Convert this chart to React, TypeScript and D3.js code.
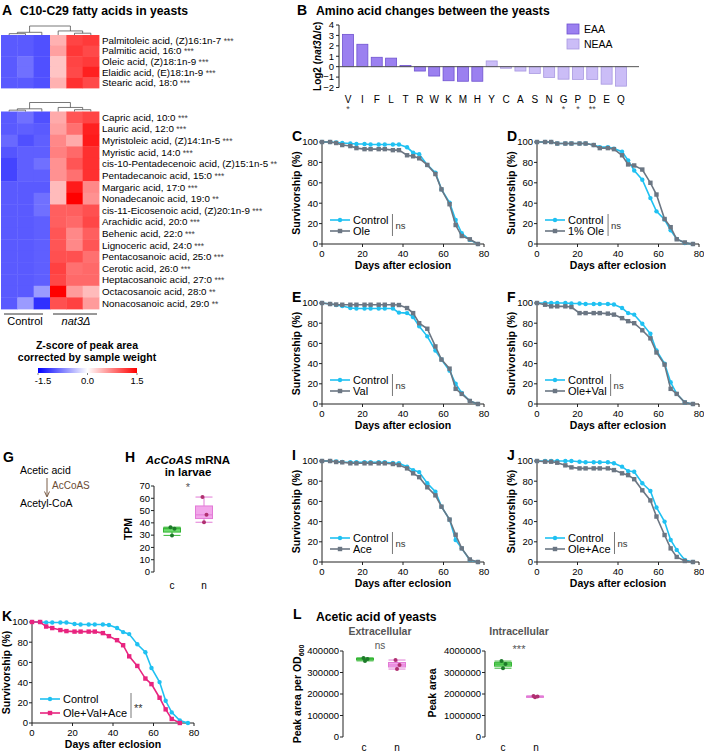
import React from "react";
import * as d3 from "d3";

const FONT = "'Liberation Sans', Arial, Helvetica, sans-serif";
const CYAN = "#1fc1f2";
const GRAY = "#6b7683";
const PINK = "#e8247f";
const AXIS = "#222";

// ---------- A: fatty acid heatmap ----------
const topAcids = [
  "Palmitoleic acid, (Z)16:1n-7",
  "Palmitic acid, 16:0",
  "Oleic acid, (Z)18:1n-9",
  "Elaidic acid, (E)18:1n-9",
  "Stearic acid, 18:0",
];
const topStars = ["***", "***", "***", "***", "***"];
// columns: control x3, nat3Δ x3
const topZ = [
  [-0.97, -0.97, -1.03, 0.46, 1.1, 1.16],
  [-0.97, -0.97, -1.03, 0.56, 1.17, 1.07],
  [-0.97, -0.84, -1.03, 0.35, 1.1, 1.16],
  [-0.97, -0.84, -1.03, 0.35, 1.07, 1.31],
  [-0.97, -0.97, -1.03, 0.46, 1.22, 1.07],
];
const bottomAcids = [
  "Capric acid, 10:0",
  "Lauric acid, 12:0",
  "Myristoleic acid, (Z)14:1n-5",
  "Myristic acid, 14:0",
  "cis-10-Pentadecenoic acid, (Z)15:1n-5",
  "Pentadecanoic acid, 15:0",
  "Margaric acid, 17:0",
  "Nonadecanoic acid, 19:0",
  "cis-11-Eicosenoic acid, (Z)20:1n-9",
  "Arachidic acid, 20:0",
  "Behenic acid, 22:0",
  "Lignoceric acid, 24:0",
  "Pentacosanoic acid, 25:0",
  "Cerotic acid, 26:0",
  "Heptacosanoic acid, 27:0",
  "Octacosanoic acid, 28:0",
  "Nonacosanoic acid, 29:0",
];
const bottomStars = ["***", "***", "***", "***", "**", "***", "***", "**", "***", "***", "***", "***", "***", "***", "***", "**", "**"];
const bottomZ = [
  [-0.97, -0.84, -1.03, 0.5, 1.0, 1.1],
  [-0.97, -0.94, -0.97, 0.56, 0.84, 1.31],
  [-0.88, -1.03, -0.94, 0.7, 0.5, 1.35],
  [-1.0, -0.94, -0.94, 0.75, 0.88, 1.22],
  [-1.1, -0.94, -0.84, 0.65, 1.0, 1.22],
  [-1.1, -0.94, -0.94, 0.65, 0.84, 1.22],
  [-0.97, -0.97, -0.97, 0.4, 1.35, 0.7],
  [-0.97, -0.97, -0.84, 0.4, 1.5, 0.65],
  [-0.97, -0.97, -0.84, 0.94, 0.94, 1.03],
  [-0.97, -0.97, -0.94, 0.94, 0.88, 1.08],
  [-0.97, -0.97, -0.94, 1.0, 0.7, 0.94],
  [-0.97, -0.97, -0.94, 1.0, 0.7, 1.0],
  [-0.97, -0.97, -0.94, 1.03, 1.03, 0.84],
  [-0.97, -0.97, -0.94, 1.12, 0.84, 0.88],
  [-0.97, -0.97, -0.94, 1.08, 0.88, 0.88],
  [-0.97, -0.97, -0.59, 1.5, 0.59, 0.4],
  [-0.97, -0.59, -1.22, 1.03, 1.12, 0.59],
];
const legendTicks = [-1.5, 0, 1.5];

// ---------- B: amino acids ----------
const aminoAcids = ["V", "I", "F", "L", "T", "R", "W", "K", "M", "H", "Y", "C", "A", "S", "N", "G", "P", "D", "E", "Q"];
const log2Change = [3.1, 2.15, 0.9, 0.82, 0.12, -0.42, -0.9, -1.35, -1.4, -1.4, 0.55, -0.15, -0.42, -0.65, -1.03, -1.2, -1.22, -1.22, -1.68, -1.87];
const aaGroup = ["EAA", "EAA", "EAA", "EAA", "EAA", "EAA", "EAA", "EAA", "EAA", "EAA",
  "NEAA", "NEAA", "NEAA", "NEAA", "NEAA", "NEAA", "NEAA", "NEAA", "NEAA", "NEAA"];
const aaStars = ["*", "", "", "", "", "", "", "", "", "", "", "", "", "", "", "*", "*", "**", "", ""];
const log2Ticks = [-2, -1, 0, 1, 2, 3, 4];

// ---------- survival curves ----------
const days = [0, 4, 7, 10, 14, 17, 21, 24, 28, 31, 35, 38, 42, 45, 48, 52, 56, 59, 63, 66, 69, 73, 77];
const ctrlC = [100, 100, 99.5, 99, 98.5, 98, 98, 97.5, 97.5, 97.5, 97.5, 97.5, 94.8, 89.5, 88, 77.5, 70, 53.6, 40.5, 23.5, 10.5, 4, 0];
const oleC = [100, 100, 99, 97, 96, 94, 93, 93, 93, 93, 92, 92, 87, 86, 84, 77.5, 68.6, 53.6, 39, 18.6, 7.8, 4.6, 0];
const ctrlD = [100, 100, 100, 98.5, 98.5, 98.5, 98.5, 98.5, 97, 95, 95, 93.5, 90.5, 82, 72, 63, 45, 32, 24, 13.5, 5, 1, 0];
const ole1D = [100, 100, 100, 98.5, 98.5, 98.5, 98.5, 98.5, 97, 94, 94, 93, 87, 78, 77, 73, 60, 48.5, 24.5, 16.5, 4.6, 1.5, 0];
const ctrlE = [100, 99, 98, 97, 95, 94.5, 94.5, 94.5, 94.5, 94.5, 94.5, 90.5, 90, 86, 77, 67, 53, 44, 33, 20, 11, 3, 0];
const valE = [100, 99, 98.5, 98.3, 98.3, 98.3, 98.3, 98.3, 98.3, 98.3, 98.3, 98, 95, 90, 80, 74.5, 57, 44, 35, 15, 10, 3, 0];
const ctrlF = [100, 100, 100, 100, 100, 99.5, 99.5, 99, 99, 99, 99, 98.5, 95, 90, 88.5, 79.5, 69.5, 53, 40, 21.5, 10, 1.5, 0];
const oleValF = [100, 98.3, 96.7, 96.7, 96.7, 96, 90, 90, 90, 90, 89.5, 88.5, 85, 82, 80, 73, 65, 51, 39, 15, 10, 1.5, 0];
const ctrlI = [100, 100, 99.5, 99, 98.7, 98.7, 98.7, 98.7, 98.7, 98.7, 98, 97.7, 94.4, 91, 89, 78, 69.6, 54.8, 42, 21.8, 13.5, 2, 0];
const aceI = [100, 100, 99, 98.7, 97.7, 97.7, 97.7, 97.7, 97.7, 97.7, 97, 96, 92.7, 87.8, 84, 74, 66, 54.8, 42, 27, 13.5, 2.5, 0];
const ctrlJ = [100, 100, 100, 100, 100, 100, 99.3, 98.7, 98.7, 98.7, 98.7, 97.7, 94.4, 90, 89.4, 78, 70.3, 54, 40, 21.8, 12, 2, 0];
const oleAceJ = [100, 99.3, 99.3, 98.3, 95.7, 93.7, 92.7, 92.7, 92.7, 92.7, 92.7, 91, 87.8, 86, 82, 71, 61, 45, 26.7, 13.5, 5, 1, 0];
const ctrlK = [100, 100, 99.5, 99.5, 99.5, 99.5, 98, 97.5, 97.5, 97.5, 97.5, 97, 94, 90, 88, 78, 70, 54.5, 40.5, 22, 10.5, 2.5, 0];
const oleValAceK = [100, 100, 95.5, 94, 92, 91, 90.5, 90.5, 90.5, 90.5, 89, 86, 82, 77, 66, 56.5, 44, 38.5, 25, 13.5, 4, 0, null];
const survTicks = [0, 20, 40, 60, 80];
const pctTicks = [0, 20, 40, 60, 80, 100];

// ---------- H: AcCoAS TPM ----------
const tpmControl = [29.8, 35.2, 36.5];
const tpmNat3 = [40.5, 46.5, 61];
const tpmTicks = [0, 10, 20, 30, 40, 50, 60, 70];

// ---------- L: acetic acid ----------
const extraControl = [354000, 363000, 368000];
const extraNat3 = [316000, 335000, 358000];
const intraControl = [3200000, 3390000, 3530000];
const intraNat3 = [1850000, 1880000, 1910000];
const extraTicks = [0, 100000, 200000, 300000, 400000];
const intraTicks = [0, 1000000, 2000000, 3000000, 4000000];

const zColor = d3.scaleLinear<string>().domain([-1.5, 0, 1.5]).range(["#0000ff", "#ffffff", "#ff0000"]).clamp(true);

const ctx = typeof document !== "undefined" ? document.createElement("canvas").getContext("2d") : null;
function textW(s: string, size: number, weight = "normal") {
  if (!ctx) return s.length * size * 0.55;
  ctx.font = `${weight} ${size}px ${FONT}`;
  return ctx.measureText(s).width;
}

// dendrogram: leaves 0-5, merges create ids 6..10
const merges: [number, number, number][] = [[0, 1, 0.15], [4, 5, 0.2], [6, 2, 0.3], [7, 3, 0.45], [8, 9, 1]];

function Dendro({ cx, yTop, yBot }: { cx: number[]; yTop: number; yBot: number }) {
  const h = d3.scaleLinear().domain([0, 1]).range([yBot, yTop]);
  const xs = [...cx];
  const hs = cx.map(() => 0);
  const paths: string[] = [];
  merges.forEach(([a, b, ht]) => {
    paths.push(`M${xs[a]},${h(hs[a])}V${h(ht)}H${xs[b]}V${h(hs[b])}`);
    xs.push((xs[a] + xs[b]) / 2);
    hs.push(ht);
  });
  return <path d={paths.join("")} fill="none" stroke="#555" strokeWidth={0.8} />;
}

function HeatBlock({ names, stars, z, y0, y1 }: { names: string[]; stars: string[]; z: number[][]; y0: number; y1: number }) {
  const x = d3.scaleBand<number>().domain(d3.range(6)).range([1, 99]);
  const y = d3.scaleBand<number>().domain(d3.range(names.length)).range([y0, y1]);
  const cx = d3.range(6).map((j) => x(j)! + x.bandwidth() / 2);
  return (
    <g>
      {z.map((row, i) =>
        row.map((v, j) => (
          <rect key={`${i}-${j}`} x={x(j)} y={y(i)} width={x.bandwidth() + 0.4} height={y.bandwidth() + 0.4} fill={zColor(v)} />
        ))
      )}
      {names.map((n, i) => (
        <text key={n} x={102} y={y(i)! + y.bandwidth() / 2 + 3.5} fontSize={9.8}>
          {n}
          <tspan fill="#444" fontSize={8.5}> {stars[i]}</tspan>
        </text>
      ))}
      <Dendro cx={cx} yTop={y0 - 9} yBot={y0} />
    </g>
  );
}

function PanelA() {
  const lx = d3.scaleLinear().domain([-1.5, 1.5]).range([38, 137]);
  return (
    <g>
      <text x={2} y={15} fontSize={14} fontWeight="bold">A</text>
      <text x={20} y={15} fontSize={12.2} fontWeight="bold">C10-C29 fatty acids in yeasts</text>
      <HeatBlock names={topAcids} stars={topStars} z={topZ} y0={35} y1={88} />
      <HeatBlock names={bottomAcids} stars={bottomStars} z={bottomZ} y0={111.5} y1={309} />
      <line x1={4} x2={43} y1={314} y2={314} stroke="#333" />
      <line x1={53} x2={97} y1={314} y2={314} stroke="#333" />
      <text x={25} y={325} fontSize={11} textAnchor="middle">Control</text>
      <text x={76} y={325} fontSize={11} textAnchor="middle" fontStyle="italic">nat3Δ</text>
      <text x={87} y={349} fontSize={10.5} fontWeight="bold" textAnchor="middle">Z-score of peak area</text>
      <text x={87} y={361} fontSize={10.5} fontWeight="bold" textAnchor="middle">corrected by sample weight</text>
      <defs>
        <linearGradient id="zgrad" x1="0" x2="1" y1="0" y2="0">
          {[-1.5, -0.75, 0, 0.75, 1.5].map((v) => (
            <stop key={v} offset={(v + 1.5) / 3} stopColor={zColor(v)} />
          ))}
        </linearGradient>
      </defs>
      <rect x={38} y={368} width={99} height={5} fill="url(#zgrad)" />
      {legendTicks.map((v) => (
        <g key={v}>
          <line x1={lx(v)} x2={lx(v)} y1={373} y2={375} stroke="#333" strokeWidth={0.6} />
          <text x={lx(v) + (v < 0 ? 5 : 0)} y={384} fontSize={9.5} textAnchor="middle">{d3.format(".1f")(v).replace("−", "-")}</text>
        </g>
      ))}
    </g>
  );
}

function PanelB() {
  const x = d3.scalePoint<string>().domain(aminoAcids).range([348, 621]);
  const y = d3.scaleLinear().domain([-2, 4]).range([87.5, 25]);
  const bw = 11;
  const fills: Record<string, string> = { EAA: "#9b80f0", NEAA: "#cbbdf7" };
  const strokes: Record<string, string> = { EAA: "#6f52d0", NEAA: "#a898e0" };
  return (
    <g>
      <text x={297} y={15} fontSize={14} fontWeight="bold">B</text>
      <text x={316} y={15} fontSize={12.2} fontWeight="bold">Amino acid changes between the yeasts</text>
      <line x1={339} x2={339} y1={y(4)} y2={y(-2)} stroke={AXIS} />
      {log2Ticks.map((t) => (
        <g key={t}>
          <line x1={336} x2={339} y1={y(t)} y2={y(t)} stroke={AXIS} />
          <text x={334} y={y(t) + 3.3} fontSize={9.5} textAnchor="end">{d3.format("d")(t)}</text>
        </g>
      ))}
      <text transform={`translate(321,${y(1)}) rotate(-90)`} fontSize={10} fontWeight="bold" textAnchor="middle">
        Log2 (<tspan fontStyle="italic">nat3</tspan>Δ/c)
      </text>
      {aminoAcids.map((a, i) => {
        const v = log2Change[i];
        return (
          <g key={a}>
            <rect x={x(a)! - bw / 2} y={Math.min(y(v), y(0))} width={bw} height={Math.abs(y(v) - y(0))}
              fill={fills[aaGroup[i]]} stroke={strokes[aaGroup[i]]} strokeWidth={0.8} />
            <text x={x(a)} y={103} fontSize={10} textAnchor="middle">{a}</text>
            {aaStars[i] && <text x={x(a)} y={112} fontSize={9} textAnchor="middle" fill="#444">{aaStars[i]}</text>}
          </g>
        );
      })}
      <line x1={339} x2={639} y1={y(0)} y2={y(0)} stroke="#555" />
      {["EAA", "NEAA"].map((g, i) => (
        <g key={g}>
          <rect x={567} y={24 + i * 15} width={12} height={10} fill={fills[g]} stroke={strokes[g]} strokeWidth={0.8} />
          <text x={584} y={33 + i * 15} fontSize={10.5}>{g}</text>
        </g>
      ))}
    </g>
  );
}

type SurvProps = {
  letter: string; x0: number; yTop: number; yBot: number;
  ctrl: (number | null)[]; treat: (number | null)[]; label: string;
  color?: string; stat?: string; rowGap?: number;
};

function Survival({ letter, x0, yTop, yBot, ctrl, treat, label, color = GRAY, stat = "ns", rowGap = 11 }: SurvProps) {
  const w = 162;
  const x = d3.scaleLinear().domain([0, 80]).range([x0, x0 + w]);
  const y = d3.scaleLinear().domain([0, 100]).range([yBot, yTop]);
  const pts = (vals: (number | null)[]) =>
    days.map((d, i) => [d, vals[i]] as [number, number | null]).filter((p) => p[1] != null) as [number, number][];
  const line = d3.line<[number, number]>().x((d) => x(d[0])).y((d) => y(d[1]));
  const c = pts(ctrl);
  const t = pts(treat);
  const lx = x0 + 8;
  const ly1 = yBot - 24;
  const ly2 = ly1 + rowGap;
  const bx = lx + 23 + Math.max(textW("Control", 11), textW(label, 11)) + 4;
  const sq = 4.4;
  return (
    <g>
      <text x={x0 - 30} y={yTop - 1} fontSize={14} fontWeight="bold">{letter}</text>
      <line x1={x0} x2={x0} y1={yTop - 1} y2={yBot} stroke={AXIS} />
      <line x1={x0} x2={x0 + w} y1={yBot} y2={yBot} stroke={AXIS} />
      {pctTicks.map((p) => (
        <g key={p}>
          <line x1={x0 - 3} x2={x0} y1={y(p)} y2={y(p)} stroke={AXIS} />
          <text x={x0 - 4} y={y(p) + 3.3} fontSize={9.5} textAnchor="end">{p}</text>
        </g>
      ))}
      {survTicks.map((d) => (
        <g key={d}>
          <line x1={x(d)} x2={x(d)} y1={yBot} y2={yBot + 3} stroke={AXIS} />
          <text x={x(d)} y={yBot + 13} fontSize={9.5} textAnchor="middle">{d}</text>
        </g>
      ))}
      <text x={x0 + w / 2} y={yBot + 24.5} fontSize={10.5} fontWeight="bold" textAnchor="middle">Days after eclosion</text>
      <text transform={`translate(${x0 - 22},${(yTop + yBot) / 2}) rotate(-90)`} fontSize={10.5} fontWeight="bold" textAnchor="middle">
        Survivorship (%)
      </text>
      <path d={line(c) || ""} fill="none" stroke={CYAN} strokeWidth={1.6} />
      {c.map((p, i) => <circle key={i} cx={x(p[0])} cy={y(p[1])} r={2.2} fill={CYAN} />)}
      <path d={line(t) || ""} fill="none" stroke={color} strokeWidth={1.6} />
      {t.map((p, i) => <rect key={i} x={x(p[0]) - sq / 2} y={y(p[1]) - sq / 2} width={sq} height={sq} fill={color} />)}
      <line x1={lx} x2={lx + 20} y1={ly1} y2={ly1} stroke={CYAN} strokeWidth={1.6} />
      <circle cx={lx + 10} cy={ly1} r={2.2} fill={CYAN} />
      <text x={lx + 23} y={ly1 + 4} fontSize={11}>Control</text>
      <line x1={lx} x2={lx + 20} y1={ly2} y2={ly2} stroke={color} strokeWidth={1.6} />
      <rect x={lx + 10 - sq / 2} y={ly2 - sq / 2} width={sq} height={sq} fill={color} />
      <text x={lx + 23} y={ly2 + 4} fontSize={11}>{label}</text>
      <line x1={bx} x2={bx} y1={ly1 - 6} y2={ly2 + 5} stroke="#555" strokeWidth={0.8} />
      <text x={bx + 3} y={(ly1 + ly2) / 2 + (stat === "ns" ? 3 : 6)} fontSize={stat === "ns" ? 9.5 : 11} fill="#333">{stat}</text>
    </g>
  );
}

function BoxPlot({ cx, y, vals, fill, stroke, dot, w = 17 }: {
  cx: number; y: d3.ScaleLinear<number, number>; vals: number[]; fill: string; stroke: string; dot: string; w?: number;
}) {
  const s = [...vals].sort(d3.ascending);
  const q1 = d3.quantile(s, 0.25)!;
  const med = d3.quantile(s, 0.5)!;
  const q3 = d3.quantile(s, 0.75)!;
  const lo = s[0];
  const hi = s[s.length - 1];
  const jitter = [0, 2.5, -1.5];
  return (
    <g>
      <line x1={cx} x2={cx} y1={y(hi)} y2={y(lo)} stroke={stroke} strokeWidth={1} />
      <line x1={cx - w / 2} x2={cx + w / 2} y1={y(hi)} y2={y(hi)} stroke={stroke} strokeWidth={1} />
      <line x1={cx - w / 2} x2={cx + w / 2} y1={y(lo)} y2={y(lo)} stroke={stroke} strokeWidth={1} />
      <rect x={cx - w / 2} y={y(q3)} width={w} height={Math.max(1, y(q1) - y(q3))} fill={fill} stroke={stroke} strokeWidth={1} />
      <line x1={cx - w / 2} x2={cx + w / 2} y1={y(med)} y2={y(med)} stroke={stroke} strokeWidth={1} />
      {vals.map((v, i) => <circle key={i} cx={cx + jitter[i % 3]} cy={y(v)} r={2} fill={dot} />)}
    </g>
  );
}

const GREEN = { fill: "#6fdc6f", stroke: "#35b535", dot: "#1d7a2a" };
const MAGENTA = { fill: "#f2a6ea", stroke: "#e27ad6", dot: "#b03070" };

function YAxis({ x0, y, ticks, fmt }: { x0: number; y: d3.ScaleLinear<number, number>; ticks: number[]; fmt: (v: number) => string }) {
  return (
    <g>
      <line x1={x0} x2={x0} y1={y(ticks[ticks.length - 1])} y2={y(ticks[0])} stroke={AXIS} />
      {ticks.map((t) => (
        <g key={t}>
          <line x1={x0 - 3} x2={x0} y1={y(t)} y2={y(t)} stroke={AXIS} />
          <text x={x0 - 4} y={y(t) + 3.3} fontSize={9.5} textAnchor="end">{fmt(t)}</text>
        </g>
      ))}
    </g>
  );
}

function PanelG() {
  return (
    <g>
      <text x={3} y={462} fontSize={14} fontWeight="bold">G</text>
      <text x={20} y={474} fontSize={10.5}>Acetic acid</text>
      <line x1={47} x2={47} y1={478} y2={496} stroke="#6b4c33" strokeWidth={0.9} />
      <path d="M44.5,491.5L47,497L49.5,491.5" fill="none" stroke="#6b4c33" strokeWidth={0.9} />
      <text x={52} y={489} fontSize={10} fill="#6b4c33">AcCoAS</text>
      <text x={20} y={507} fontSize={10.5}>Acetyl-CoA</text>
    </g>
  );
}

function PanelH() {
  const y = d3.scaleLinear().domain([0, 70]).range([572, 486]);
  return (
    <g>
      <text x={125} y={462} fontSize={14} fontWeight="bold">H</text>
      <text x={188} y={464} fontSize={11.5} fontWeight="bold" textAnchor="middle">
        <tspan fontStyle="italic">AcCoAS</tspan> mRNA
      </text>
      <text x={188} y={476} fontSize={11.5} fontWeight="bold" textAnchor="middle">in larvae</text>
      <YAxis x0={154} y={y} ticks={tpmTicks} fmt={(v) => String(v)} />
      <text transform={`translate(132,${y(35)}) rotate(-90)`} fontSize={10.5} fontWeight="bold" textAnchor="middle">TPM</text>
      <BoxPlot cx={172} y={y} vals={tpmControl} {...GREEN} />
      <BoxPlot cx={204} y={y} vals={tpmNat3} {...MAGENTA} />
      <text x={188} y={491} fontSize={11} fill="#555" textAnchor="middle">*</text>
      <text x={172} y={589} fontSize={10} textAnchor="middle">c</text>
      <text x={204} y={589} fontSize={10} textAnchor="middle">n</text>
    </g>
  );
}

function PanelL() {
  const ye = d3.scaleLinear().domain([0, 400000]).range([737, 651]);
  const yi = d3.scaleLinear().domain([0, 4000000]).range([737, 651]);
  return (
    <g>
      <text x={293} y={619} fontSize={14} fontWeight="bold">L</text>
      <text x={316} y={621} fontSize={12.2} fontWeight="bold">Acetic acid of yeasts</text>
      <text x={380} y={635} fontSize={10.5} fontWeight="bold" fill="#555" textAnchor="middle">Extracellular</text>
      <text x={519} y={635} fontSize={10.5} fontWeight="bold" fill="#555" textAnchor="middle">Intracellular</text>
      <YAxis x0={343} y={ye} ticks={extraTicks} fmt={(v) => String(v)} />
      <YAxis x0={485} y={yi} ticks={intraTicks} fmt={(v) => String(v)} />
      <text transform={`translate(301,694) rotate(-90)`} fontSize={10.5} fontWeight="bold" textAnchor="middle">
        Peak area per OD<tspan dy={2.5} fontSize={7}>600</tspan>
      </text>
      <text transform={`translate(436,693) rotate(-90)`} fontSize={10.5} fontWeight="bold" textAnchor="middle">Peak area</text>
      <BoxPlot cx={365} y={ye} vals={extraControl} {...GREEN} />
      <BoxPlot cx={397} y={ye} vals={extraNat3} {...MAGENTA} />
      <BoxPlot cx={503} y={yi} vals={intraControl} {...GREEN} />
      <BoxPlot cx={535} y={yi} vals={intraNat3} {...MAGENTA} />
      <text x={380} y={649} fontSize={10} fill="#555" textAnchor="middle">ns</text>
      <text x={519} y={653} fontSize={11} fill="#555" textAnchor="middle">***</text>
      <text x={364} y={751} fontSize={10} textAnchor="middle">c</text>
      <text x={397} y={751} fontSize={10} textAnchor="middle">n</text>
      <text x={503} y={751} fontSize={10} textAnchor="middle">c</text>
      <text x={536} y={751} fontSize={10} textAnchor="middle">n</text>
    </g>
  );
}

export default function App() {
  return (
    <svg width={704} height={753} fontFamily={FONT} style={{ position: "absolute", left: 0, top: 0, background: "#fff" }}>
      <rect width={704} height={753} fill="#fff" />
      <PanelA />
      <PanelB />
      <Survival letter="C" x0={322} yTop={142} yBot={244} ctrl={ctrlC} treat={oleC} label="Ole" />
      <Survival letter="D" x0={537} yTop={142} yBot={244} ctrl={ctrlD} treat={ole1D} label="1% Ole" />
      <Survival letter="E" x0={322} yTop={303} yBot={404} ctrl={ctrlE} treat={valE} label="Val" />
      <Survival letter="F" x0={537} yTop={303} yBot={404} ctrl={ctrlF} treat={oleValF} label="Ole+Val" />
      <Survival letter="I" x0={322} yTop={461} yBot={562} ctrl={ctrlI} treat={aceI} label="Ace" />
      <Survival letter="J" x0={537} yTop={461} yBot={562} ctrl={ctrlJ} treat={oleAceJ} label="Ole+Ace" />
      <Survival letter="K" x0={32} yTop={622} yBot={723} ctrl={ctrlK} treat={oleValAceK} label="Ole+Val+Ace" color={PINK} stat="**" rowGap={14} />
      <PanelG />
      <PanelH />
      <PanelL />
    </svg>
  );
}
